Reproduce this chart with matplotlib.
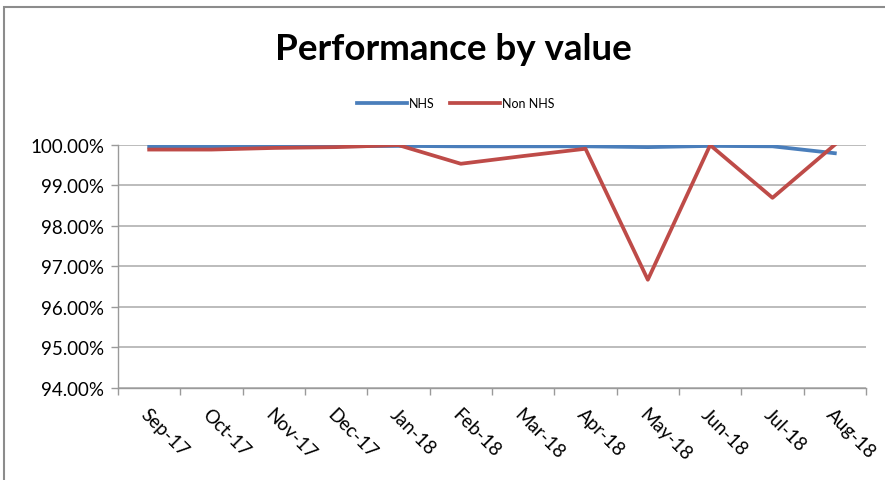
import numpy as np
import matplotlib.pyplot as plt
from matplotlib.patches import Rectangle
from matplotlib.ticker import FuncFormatter, FixedLocator

months = ['Sep-17', 'Oct-17', 'Nov-17', 'Dec-17', 'Jan-18', 'Feb-18',
          'Mar-18', 'Apr-18', 'May-18', 'Jun-18', 'Jul-18', 'Aug-18']
nhs = [99.95, 99.95, 99.96, 99.96, 99.97, 99.96,
       99.96, 99.96, 99.94, 99.97, 99.96, 99.79]
non_nhs = [99.88, 99.88, 99.92, 99.94, 99.99, 99.53,
           99.72, 99.90, 96.67, 99.99, 98.69, 100.0]

plt.rcParams['font.family'] = ['Lato', 'DejaVu Sans']

fig = plt.figure(figsize=(8.85, 4.81), dpi=100)
ax = fig.add_axes([118 / 885, 1 - 389 / 481, (866 - 118) / 885, (389 - 145.7) / 481])

# outer chart frame
fig.patches.append(Rectangle((4 / 885, -0.01), 1.0, 1 - 8 / 481 + 0.01,
                             transform=fig.transFigure, fill=False,
                             edgecolor='#8c8c8c', linewidth=1.5))

x = np.arange(len(months))
ax.plot(x, nhs, color='#4A7EBB', linewidth=2.7, label='NHS', zorder=3)
ax.plot(x, non_nhs, color='#BE4B48', linewidth=2.7, label='Non NHS', zorder=4)

ax.set_xlim(-0.5, len(months) - 0.5)
ax.set_ylim(94, 100)
ax.set_yticks(np.arange(94, 100.01, 1))
ax.yaxis.set_major_formatter(FuncFormatter(lambda v, p: f'{v:.2f}%'))
ax.grid(axis='y', color='#b0b0b0', linewidth=1.2)
ax.set_axisbelow(True)

ax.set_xticks(x)
ax.set_xticklabels(months, rotation=-45, ha='left', va='top',
                   rotation_mode='anchor', fontsize=13.5)
ax.xaxis.set_minor_locator(FixedLocator(np.arange(-0.5, len(months), 1)))
ax.tick_params(axis='x', which='major', length=0, pad=12)
ax.tick_params(axis='x', which='minor', length=5, color='#9a9a9a', width=1)
ax.tick_params(axis='y', length=5, color='#9a9a9a', width=1, labelsize=13.5, pad=5)

for s in ['top', 'right']:
    ax.spines[s].set_visible(False)
for s in ['left', 'bottom']:
    ax.spines[s].set_color('#9a9a9a')
    ax.spines[s].set_linewidth(1)

fig.text(0.512, 1 - 50 / 481, 'Performance by value', ha='center', va='center',
         fontsize=26.5, fontweight='bold')
fig.legend(loc='center', bbox_to_anchor=(0.515, 1 - 104 / 481), ncol=2,
           frameon=False, fontsize=9, handlelength=4, columnspacing=1.2,
           handletextpad=0.2)

fig.savefig('out.png', dpi=100)
